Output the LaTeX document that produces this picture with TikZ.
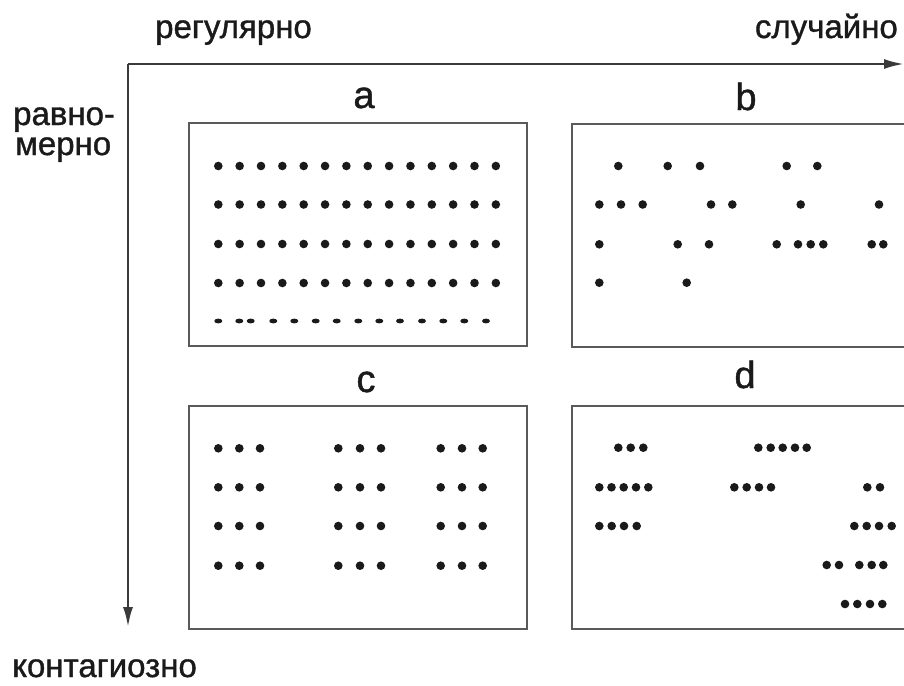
\documentclass[tikz,border=0pt]{standalone}
\usepackage{fontspec}
\setmainfont{Liberation Sans}
\newfontfamily\heavyfont{Liberation Sans}[FakeBold=1.1]
\usetikzlibrary{arrows.meta}
\definecolor{ink}{HTML}{1A1A1A}
\definecolor{frame}{HTML}{5A5A5A}
\definecolor{axis}{HTML}{3A3A3A}
\tikzset{
  axistext/.style={inner sep=0pt, text=ink, font=\heavyfont\fontsize{33}{38}\selectfont},
  paneltag/.style={inner sep=0pt, text=ink, font=\heavyfont\fontsize{38}{44}\selectfont, anchor=base},
  panel/.style={draw=frame, line width=2.6pt},
  axisline/.style={draw=axis, line width=2.4pt, -{Latex[length=20pt,width=10pt]}},
  dot/.style={fill=ink},
}
\newcommand{\dotrow}[2]{\foreach \xx in {#2} {\fill[dot] (\xx,#1) circle (4.3);}}
\begin{document}
\begin{tikzpicture}[x=1pt,y=-1pt]
\useasboundingbox[fill=white] (0,0) rectangle (904,685);
% axes
\coordinate (O) at (128,64);
\coordinate (X) at (904,64);
\coordinate (Y) at (128,627);
\draw[axisline] (O) -- (X);
\draw[axisline] (O) -- (Y);
% axis texts
\node[axistext, anchor=base west] (reg) at (155,38) {регулярно};
\node[axistext, anchor=base east] (sluch) at (898,38) {случайно};
\node[axistext, anchor=base west] (ravno) at (13,125) {равно-};
\node[axistext, anchor=base west] (merno) at (15,155) {мерно};
\node[axistext, anchor=base west] (kont) at (12,677) {контагиозно};
% panels
\draw[panel] (189,123) rectangle (527,346);
\draw[panel] (572,124) rectangle (920,347);
\draw[panel] (189,406) rectangle (527,629);
\draw[panel] (572,406) rectangle (920,629);
% panel tags
\node[paneltag] (ta) at (364,108) {a};
\node[paneltag] (tb) at (746,110) {b};
\node[paneltag] (tc) at (366,392) {c};
\node[paneltag] (td) at (745,388) {d};
% panel a: regular
\foreach \yy in {166,204.5,244,283} {
  \foreach \i in {0,...,13} {\fill[dot] (218.3+21.35*\i,\yy) circle (4.3);}
}
\foreach \xx in {218.3,239.3,250.7,273.3,294.3,315.7,336.7,358.3,379.3,400,422,443.3,464.3,486}
  {\fill[dot] (\xx,321) ellipse (4 and 2.4);}
% panel b: random
\dotrow{166}{618.3,667.7,700,786.7,817.3}
\dotrow{204.5}{599.3,621,642.7,711,732.3,800.7,879}
\dotrow{244.3}{599.3,677.7,709,776.7,798,810.7,823.3,871.7,883.3}
\dotrow{282.7}{599.3,686.7}
% panel c: regular clusters
\foreach \yy in {448.3,487.3,526,565.7} {
  \dotrow{\yy}{218.3,239.3,260,338.3,360,381,440.7,462,482.7}
}
% panel d: contagious
\dotrow{447.7}{618.3,630.7,643.3,758.3,770.7,782.7,795,806.7}
\dotrow{487.3}{599.3,611.5,623.7,636,648.3,734.3,746.7,759,771,867.3,880}
\dotrow{526}{599.3,611.7,624,636.7,854.3,866.7,879,891.7}
\dotrow{565}{826.7,839,859.3,871.7,883.3}
\dotrow{604}{845,857.3,870,882.3}
\end{tikzpicture}
\end{document}
